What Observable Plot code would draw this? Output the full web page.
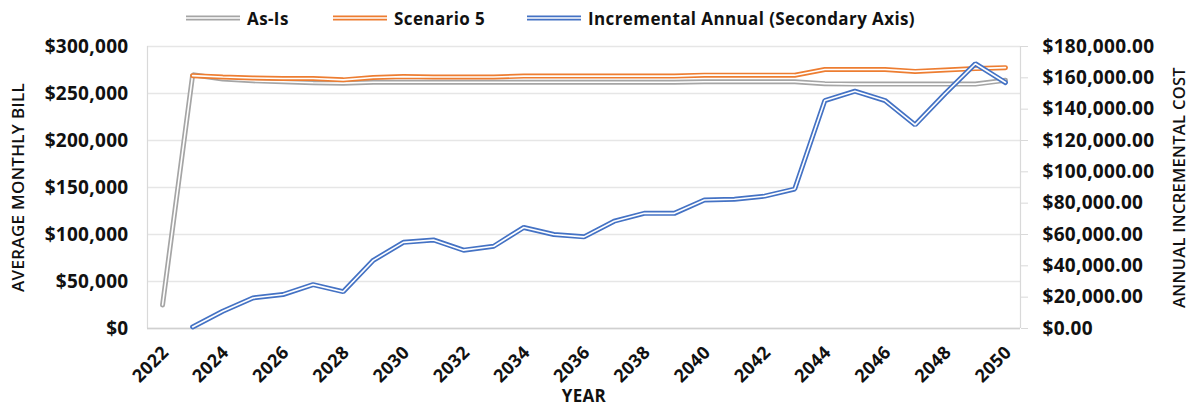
<!DOCTYPE html>
<html><head><meta charset="utf-8">
<script src="https://cdn.jsdelivr.net/npm/d3@7"></script>
<script src="https://cdn.jsdelivr.net/npm/@observablehq/plot@0.6"></script>
<style>
body{margin:0;background:#fff;font-family:"Open Sans",sans-serif;}
#legend{height:30px;position:relative;width:1191px;}
.item{position:absolute;top:3px;height:30px;display:flex;align-items:center;font-weight:700;font-size:17px;color:#111;white-space:nowrap;letter-spacing:0.4px;}
.item svg{margin-right:7px;}
</style></head><body>
<div id="legend"></div>
<div id="chart"></div>
<script>
const years = [2022,2023,2024,2025,2026,2027,2028,2029,2030,2031,2032,2033,2034,2035,2036,2037,2038,2039,2040,2041,2042,2043,2044,2045,2046,2047,2048,2049,2050];
const asIs = [25000,270000,265500,263500,262500,261500,261000,262000,262000,262000,262000,262000,262000,262000,262000,262000,262000,262000,262500,262500,262500,262500,260500,260000,260000,260000,260000,260000,264000];
const scenario5 = [null,269000,267500,266500,266000,266000,264500,267000,268000,267500,267500,267500,268500,268500,268500,268500,268500,268500,269500,269500,269500,269500,275500,275500,275500,273500,275000,276500,277500];
const incremental = [null,1000,11000,19500,21700,28000,23500,43500,55000,56500,50000,52500,64500,60000,58500,68500,73500,73500,82000,82500,84500,89000,145500,151500,145500,130000,150000,169000,157000];
const xTicks = [2022,2024,2026,2028,2030,2032,2034,2036,2038,2040,2042,2044,2046,2048,2050];
const leftTicks = [0,50000,100000,150000,200000,250000,300000];
const rightTicks = [0,20000,40000,60000,80000,100000,120000,140000,160000,180000];
const seriesNames = ["As-Is","Scenario 5","Incremental Annual (Secondary Axis)"];
const colors = ["#a5a5a5","#ed7d31","#4472c4"];
const leftMax = 300000, rightMax = 180000;
const ratio = leftMax / rightMax;

const toRows = (vals, k) => years.map((y, i) => ({year: y, v: vals[i] == null ? NaN : vals[i] * k}));
const seriesData = [toRows(asIs, 1), toRows(scenario5, 1), toRows(incremental, ratio)];

// legend
const legend = document.getElementById("legend");
const legendLeft = [186, 333, 527];
seriesNames.forEach((name, i) => {
  const d = document.createElement("div");
  d.className = "item";
  d.style.left = legendLeft[i] + "px";
  d.innerHTML = `<svg width="54" height="10"><line x1="0" x2="54" y1="5" y2="5" stroke="${colors[i]}" stroke-width="5"/><line x1="0" x2="54" y1="5" y2="5" stroke="white" stroke-width="1.6"/></svg><span>${name}</span>`;
  legend.appendChild(d);
});

const lineMarks = [];
seriesData.forEach((data, i) => {
  lineMarks.push(Plot.lineY(data, {x: "year", y: "v", stroke: colors[i], strokeWidth: 5, strokeLinejoin: "miter"}));
  lineMarks.push(Plot.lineY(data, {x: "year", y: "v", stroke: "white", strokeWidth: 1.6, strokeLinejoin: "miter"}));
});

const chart = Plot.plot({
  width: 1191,
  height: 382,
  marginTop: 16,
  marginBottom: 84,
  marginLeft: 147,
  marginRight: 171,
  style: {fontFamily: "'Open Sans', sans-serif", color: "#111", background: "white", letterSpacing: "0.3px", overflow: "visible"},
  x: {domain: [2021.5, 2050.5], axis: null},
  y: {domain: [0, leftMax], axis: null},
  marks: [
    Plot.gridY(leftTicks, {stroke: "#e6e6e6", strokeOpacity: 1, strokeWidth: 1.5}),
    Plot.ruleX([2021.5], {stroke: "#d9d9d9", strokeWidth: 1.2}),
    Plot.ruleX([2050.5], {stroke: "#d9d9d9", strokeWidth: 1.2}),
    Plot.ruleY([0], {stroke: "#d0d0d0", strokeWidth: 1.5}),
    ...lineMarks,
    Plot.axisY(leftTicks, {anchor: "left", tickFormat: d => "$" + d3.format(",")(d), tickSize: 0, tickPadding: 19, fontSize: 19, fontWeight: 700, fill: "#111", label: null}),
    Plot.axisY(rightTicks.map(v => v * ratio), {anchor: "right", tickFormat: d => "$" + d3.format(",.2f")(Math.round(d / ratio)), tickSize: 7, stroke: "#d9d9d9", tickPadding: 15, fontSize: 19, fontWeight: 700, fill: "#111", label: null}),
    Plot.axisX(xTicks, {anchor: "bottom", tickFormat: d => String(d), tickRotate: -45, tickSize: 0, tickPadding: 21, dx: 3, fontSize: 18, fontWeight: 700, fill: "#111", label: null}),
    Plot.text(["AVERAGE MONTHLY BILL"], {frameAnchor: "left", textAnchor: "middle", dx: -129, rotate: -90, fontSize: 17, fontWeight: 600, fill: "#111"}),
    Plot.text(["ANNUAL INCREMENTAL COST"], {frameAnchor: "right", textAnchor: "middle", dx: 159, rotate: -90, fontSize: 16.5, fontWeight: 600, fill: "#111"}),
    Plot.text(["YEAR"], {frameAnchor: "bottom", dy: 73, fontSize: 17, fontWeight: 700, fill: "#111"})
  ]
});
document.getElementById("chart").appendChild(chart);
</script>
</body></html>
